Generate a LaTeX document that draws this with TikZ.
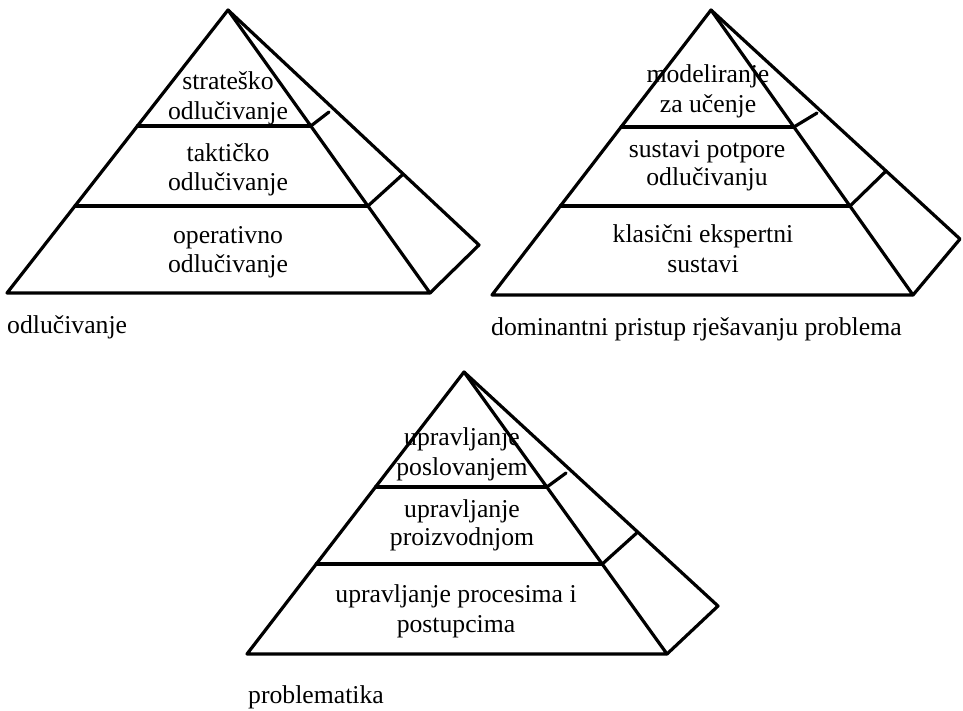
\documentclass[tikz,border=0pt]{standalone}
\usepackage{fontspec}
\setmainfont{Liberation Serif}
\usetikzlibrary{calc}
\tikzset{
  edge/.style={line width=3.2pt, line cap=round, line join=round},
  lbl/.style={anchor=base, inner sep=0pt, font=\fontsize{25.7}{29}\selectfont},
  caption/.style={anchor=base west, inner sep=0pt, font=\fontsize{25.7}{29}\selectfont}
}
\begin{document}
\begin{tikzpicture}[x=1pt,y=-1pt]
\useasboundingbox (0,0) rectangle (963,710);
% ---------- pyramid 1 ----------
\coordinate (A1) at (228,10);
\coordinate (L1) at (7,293);
\coordinate (R1) at (430,293);
\coordinate (B1) at (479,245);
\draw[edge] (L1) -- (A1) -- (R1) -- cycle;
\draw[edge] (A1) -- (B1) -- (R1);
\draw[edge] ($(A1)!0.41!(L1)$) -- ($(A1)!0.41!(R1)$) coordinate (t1a);
\draw[edge] ($(A1)!0.6926!(L1)$) -- ($(A1)!0.6926!(R1)$) coordinate (t1b);
\coordinate (k1a) at (329,112);
\draw[edge] (t1a) -- (k1a);
\draw[edge] (t1b) -- ($(A1)!0.698!(B1)$);
\node[lbl] (p1a) at (228,89) {strateško};
\node[lbl] (p1b) at (228,119) {odlučivanje};
\node[lbl] (p1c) at (228,161) {taktičko};
\node[lbl] (p1d) at (228,190) {odlučivanje};
\node[lbl] (p1e) at (228,243) {operativno};
\node[lbl] (p1f) at (228,272) {odlučivanje};
\node[caption] (c1) at (7,333) {odlučivanje};
% ---------- pyramid 2 ----------
\coordinate (A2) at (711,10);
\coordinate (L2) at (492,295);
\coordinate (R2) at (913,295);
\coordinate (B2) at (960,239);
\draw[edge] (L2) -- (A2) -- (R2) -- cycle;
\draw[edge] (A2) -- (B2) -- (R2);
\draw[edge] ($(A2)!0.4105!(L2)$) -- ($(A2)!0.4105!(R2)$) coordinate (t2a);
\draw[edge] ($(A2)!0.688!(L2)$) -- ($(A2)!0.688!(R2)$) coordinate (t2b);
\coordinate (k2a) at (817,113);
\draw[edge] (t2a) -- (k2a);
\draw[edge] (t2b) -- ($(A2)!0.703!(B2)$);
\node[lbl] (p2a) at (708,82) {modeliranje};
\node[lbl] (p2b) at (708,112) {za učenje};
\node[lbl] (p2c) at (707,157) {sustavi potpore};
\node[lbl] (p2d) at (707,185) {odlučivanju};
\node[lbl] (p2e) at (703,242) {klasični ekspertni};
\node[lbl] (p2f) at (703,272) {sustavi};
\node[caption] (c2) at (491,335) {dominantni pristup rješavanju problema};
% ---------- pyramid 3 ----------
\coordinate (A3) at (464,372);
\coordinate (L3) at (247,654);
\coordinate (R3) at (667,654);
\coordinate (B3) at (718,606);
\draw[edge] (L3) -- (A3) -- (R3) -- cycle;
\draw[edge] (A3) -- (B3) -- (R3);
\draw[edge] ($(A3)!0.408!(L3)$) -- ($(A3)!0.408!(R3)$) coordinate (t3a);
\draw[edge] ($(A3)!0.681!(L3)$) -- ($(A3)!0.681!(R3)$) coordinate (t3b);
\coordinate (k3a) at (566,473);
\draw[edge] (t3a) -- (k3a);
\draw[edge] (t3b) -- ($(A3)!0.684!(B3)$);
\node[lbl] (p3a) at (462,445) {upravljanje};
\node[lbl] (p3b) at (462,475) {poslovanjem};
\node[lbl] (p3c) at (462,517) {upravljanje};
\node[lbl] (p3d) at (462,545) {proizvodnjom};
\node[lbl] (p3e) at (456,602) {upravljanje procesima i};
\node[lbl] (p3f) at (456,632) {postupcima};
\node[caption] (c3) at (248,703) {problematika};
\end{tikzpicture}
\end{document}
